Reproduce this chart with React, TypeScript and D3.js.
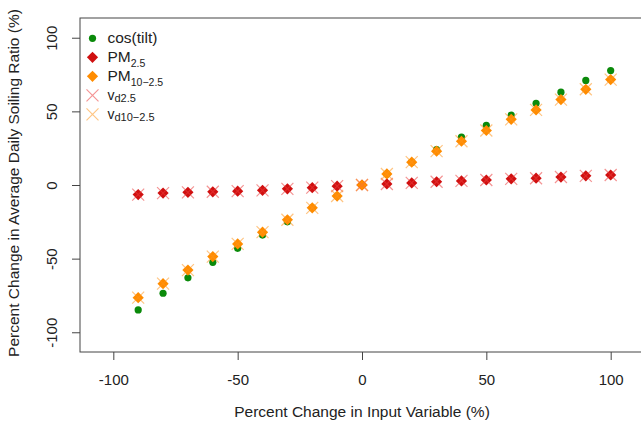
import React, { useEffect, useRef } from 'react';
import * as d3 from 'd3';

const changes = [-90, -80, -70, -60, -50, -40, -30, -20, -10, 0, 10, 20, 30, 40, 50, 60, 70, 80, 90, 100];
const cosTilt = [-84.8, -73.5, -63, -52.5, -43, -34, -25, -15.5, -7.5, 0, 7.5, 15.5, 24, 32.5, 40.5, 47.5, 55.5, 63, 71, 77.7];
const pm25 = [-6.5, -5.5, -5, -4.6, -4.2, -3.6, -2.6, -1.8, -0.8, 0, 0.7, 1.4, 2.2, 2.8, 3.4, 4.2, 4.6, 5.4, 6.2, 6.8];
const pm1025 = [-76.5, -67, -57.8, -48.6, -40, -32, -23.6, -15.5, -7.5, 0, 7.5, 15.5, 23, 29.7, 37, 44.6, 51, 58, 65, 71.6];
const vd25 = pm25;
const vd1025 = pm1025;
const xTicks = [-100, -50, 0, 50, 100];
const yTicks = [-100, -50, 0, 50, 100];

const App = () => {
  const svgRef = useRef(null);

  useEffect(() => {
    const width = 641, height = 432;
    const margin = { top: 18, right: -3, bottom: 80, left: 80 };
    const font = "'Liberation Sans', Arial, sans-serif";
    const frame = '#444';
    const fmt = (d) => String(d); // plain hyphen, like R

    const svg = d3.select(svgRef.current)
      .attr('width', width)
      .attr('height', height);
    svg.selectAll('*').remove();

    const x = d3.scaleLinear().domain([-113.4, 113.4]).range([margin.left, width - margin.right]);
    const y = d3.scaleLinear().domain([-113.4, 113.4]).range([height - margin.bottom, margin.top]);

    // frame
    svg.append('rect')
      .attr('x', x(-113.4)).attr('y', y(113.4))
      .attr('width', x(113.4) - x(-113.4)).attr('height', y(-113.4) - y(113.4))
      .attr('fill', 'none').attr('stroke', frame).attr('stroke-width', 1);

    // axes
    const xAxis = svg.append('g')
      .attr('transform', `translate(0,${y(-113.4)})`)
      .call(d3.axisBottom(x).tickValues(xTicks).tickSize(8).tickPadding(14).tickFormat(fmt));
    xAxis.select('.domain').remove();
    xAxis.selectAll('.tick line').attr('stroke', frame);
    xAxis.selectAll('text')
      .style('font-family', font).style('font-size', '15px').attr('fill', '#222');

    const yAxis = svg.append('g')
      .attr('transform', `translate(${x(-113.4)},0)`)
      .call(d3.axisLeft(y).tickValues(yTicks).tickSize(8).tickFormat(fmt));
    yAxis.select('.domain').remove();
    yAxis.selectAll('.tick line').attr('stroke', frame);
    yAxis.selectAll('text')
      .style('font-family', font).style('font-size', '15px').attr('fill', '#222')
      .attr('x', 0).attr('dy', 0)
      .attr('text-anchor', 'middle')
      .attr('transform', 'translate(-23,0) rotate(-90)');

    // axis titles
    svg.append('text')
      .attr('x', x(0)).attr('y', 417)
      .attr('text-anchor', 'middle')
      .style('font-family', font).style('font-size', '15.5px').attr('fill', '#222')
      .text('Percent Change in Input Variable (%)');
    svg.append('text')
      .attr('transform', `translate(19,${y(0) - 2}) rotate(-90)`)
      .attr('text-anchor', 'middle')
      .style('font-family', font).style('font-size', '15.5px').attr('fill', '#222')
      .text('Percent Change in Average Daily Soiling Ratio (%)');

    const diamond = d3.symbol().type(d3.symbolDiamond2).size(80);
    const cross = (s) => `M${-s},${-s}L${s},${s}M${-s},${s}L${s},${-s}`;

    // cos(tilt)
    svg.append('g').selectAll('circle')
      .data(changes)
      .join('circle')
      .attr('cx', d => x(d))
      .attr('cy', (d, i) => y(cosTilt[i]))
      .attr('r', 3.6)
      .attr('fill', '#0a8a0a');

    // PM2.5
    svg.append('g').selectAll('path')
      .data(changes)
      .join('path')
      .attr('transform', (d, i) => `translate(${x(d)},${y(pm25[i])})`)
      .attr('d', diamond())
      .attr('fill', '#d01010');

    // PM10-2.5
    svg.append('g').selectAll('path')
      .data(changes)
      .join('path')
      .attr('transform', (d, i) => `translate(${x(d)},${y(pm1025[i])})`)
      .attr('d', diamond())
      .attr('fill', '#ff8c00');

    // vd2.5
    svg.append('g').selectAll('path')
      .data(changes)
      .join('path')
      .attr('transform', (d, i) => `translate(${x(d)},${y(vd25[i])})`)
      .attr('d', cross(6))
      .attr('stroke', 'rgba(235,60,60,0.55)').attr('stroke-width', 1.2).attr('fill', 'none');

    // vd10-2.5
    svg.append('g').selectAll('path')
      .data(changes)
      .join('path')
      .attr('transform', (d, i) => `translate(${x(d)},${y(vd1025[i])})`)
      .attr('d', cross(6))
      .attr('stroke', 'rgba(255,150,30,0.55)').attr('stroke-width', 1.2).attr('fill', 'none');

    // legend
    const legend = svg.append('g').attr('transform', 'translate(92.5,38.3)');
    const rowH = 19;
    const items = [
      { kind: 'dot', color: '#0a8a0a', main: 'cos(tilt)', sub: '', big: true },
      { kind: 'diamond', color: '#d01010', main: 'PM', sub: '2.5', big: true },
      { kind: 'diamond', color: '#ff8c00', main: 'PM', sub: '10\u22122.5', big: true },
      { kind: 'cross', color: 'rgba(235,60,60,0.55)', main: 'v', sub: 'd2.5', big: false },
      { kind: 'cross', color: 'rgba(255,150,30,0.55)', main: 'v', sub: 'd10\u22122.5', big: false },
    ];
    items.forEach((it, i) => {
      const g = legend.append('g').attr('transform', `translate(0,${i * rowH})`);
      if (it.kind === 'dot') g.append('circle').attr('r', 3.6).attr('fill', it.color);
      if (it.kind === 'diamond') g.append('path').attr('d', diamond()).attr('fill', it.color);
      if (it.kind === 'cross') g.append('path').attr('d', cross(6)).attr('stroke', it.color).attr('stroke-width', 1.2).attr('fill', 'none');
      const t = g.append('text')
        .attr('x', 15).attr('y', 5)
        .style('font-family', font).attr('fill', '#222')
        .style('font-size', it.big ? '15.5px' : '14px');
      t.append('tspan').text(it.main);
      if (it.sub) {
        t.append('tspan').attr('dy', it.big ? 5 : 2).style('font-size', it.big ? '10.5px' : '11px').text(it.sub);
      }
    });
  }, []);

  return (
    <svg ref={svgRef} style={{ position: 'fixed', left: 0, top: 0, background: '#fff' }}></svg>
  );
};

export default App;
